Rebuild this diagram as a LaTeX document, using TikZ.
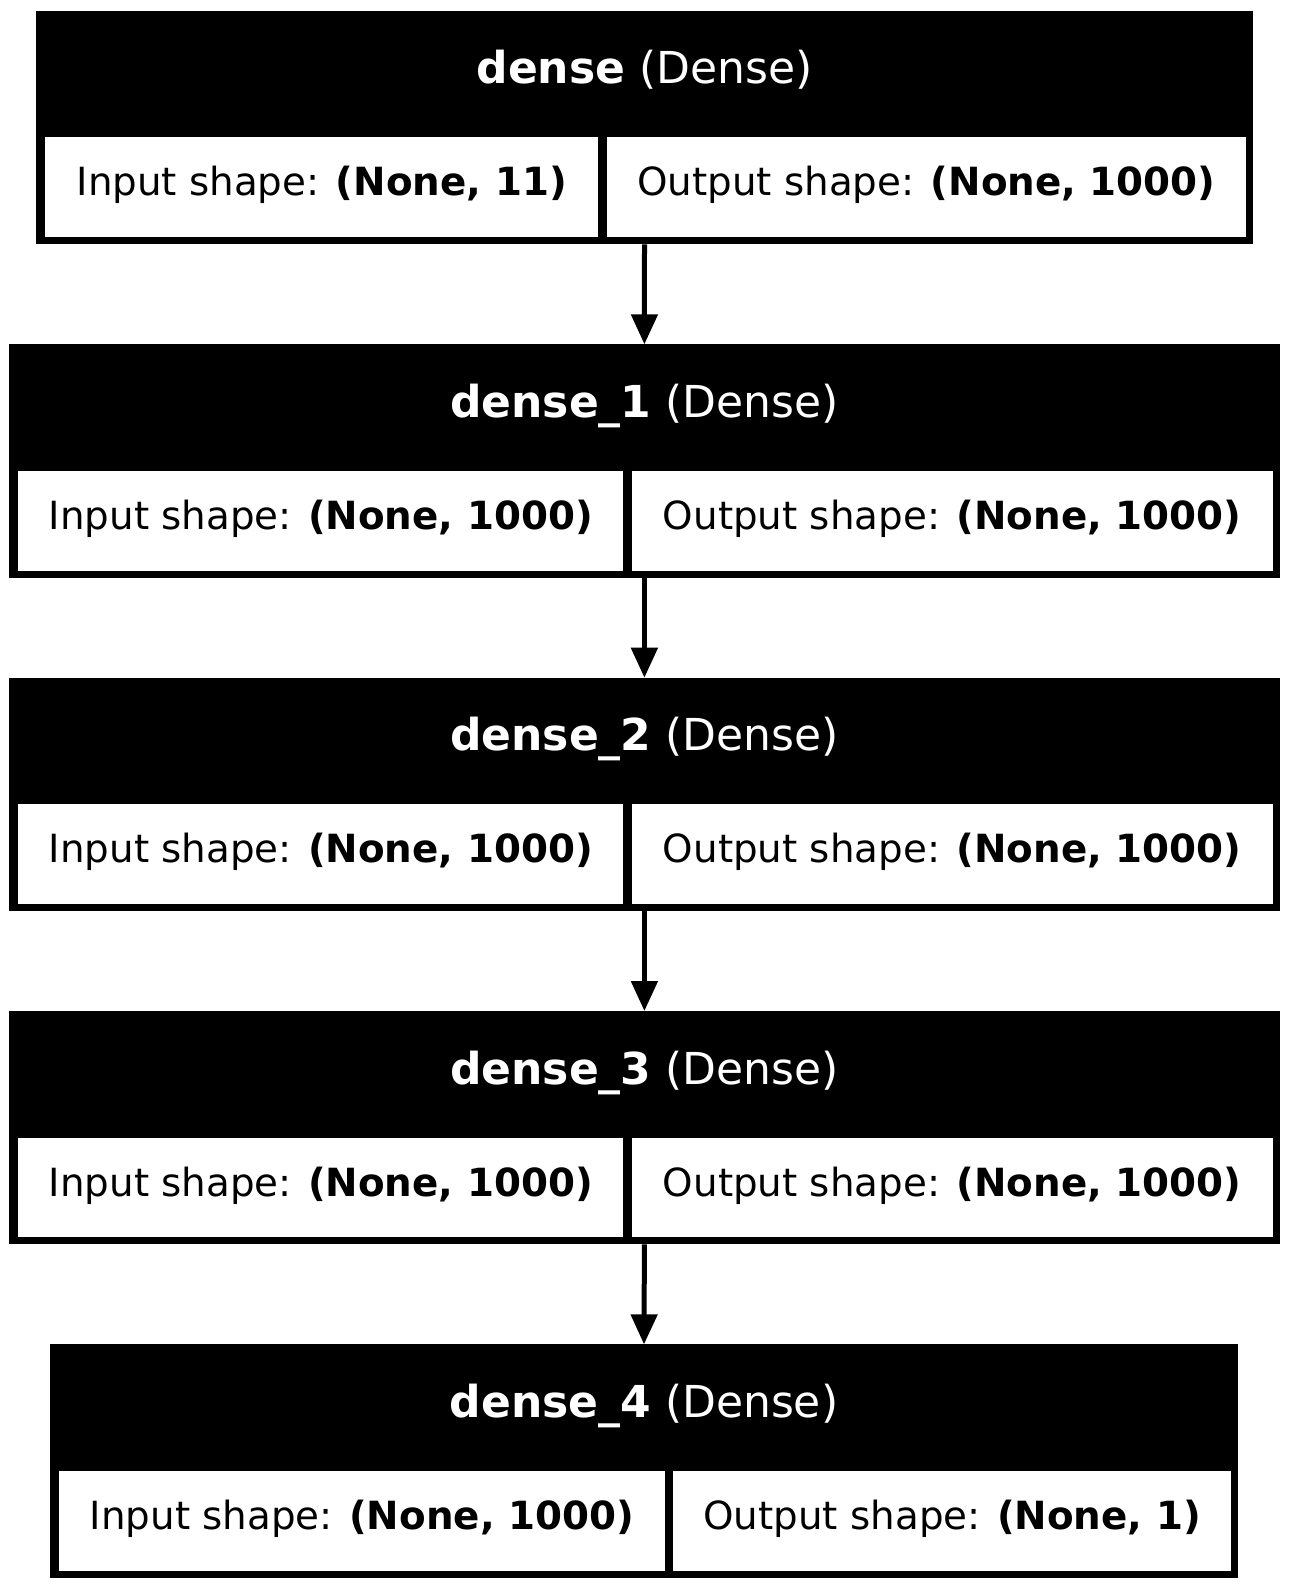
\documentclass[tikz,border=0pt]{standalone}
\usepackage{fontspec}
\setmainfont{DejaVu Sans}
\usetikzlibrary{arrows.meta}
\begin{document}
\begin{tikzpicture}[x=0.5pt,y=-0.5pt,
  layerbox/.style={rectangle, fill=black, inner sep=0pt, outer sep=0pt, anchor=north west},
  cellbox/.style={rectangle, fill=white, inner sep=0pt, outer sep=0pt, anchor=north west},
  hdrtext/.style={text=white, font=\fontsize{22}{26}\selectfont, anchor=base, inner sep=0pt},
  celltext/.style={text=black, font=\fontsize{19.4}{23}\selectfont, anchor=base, inner sep=0pt},
  conn/.style={line width=2.5pt, -{Triangle[length=15pt,width=13pt]}}
]
\fill[white] (0,0) rectangle (1289,1589);
\useasboundingbox (0,0) rectangle (1289,1589);

% #1 name, #2 top, #3 left, #4 right, #5 divider, #6 title, #7 in, #8 out
\def\mklayer#1#2#3#4#5#6#7#8{%
  \node[layerbox, minimum width={(#4-#3)*0.5pt}, minimum height={233.3*0.5pt}] (#1) at (#3,#2) {};
  \node[cellbox, minimum width={(#5-4.2-#3-9)*0.5pt}, minimum height={99.8*0.5pt}] (#1in) at ({#3+9},{#2+126.5}) {};
  \node[cellbox, minimum width={(#4-7-#5-4.2)*0.5pt}, minimum height={99.8*0.5pt}] (#1out) at ({#5+4.2},{#2+126.5}) {};
  \node[hdrtext] (#1title) at ({(#3+#4)/2},{#2+73}) {\textbf{#6} (Dense)};
  \node[celltext] (#1intext) at ({(#3+9+#5-4.2)/2},{#2+185}) {Input shape: \textbf{#7}};
  \node[celltext] (#1outtext) at ({(#5+4.2+#4-7)/2},{#2+185}) {Output shape: \textbf{#8}};
}

\mklayer{la}{11}{36}{1253}{602.5}{dense}{(None, 11)}{(None, 1000)}
\mklayer{lb}{344.3}{9.3}{1279.5}{627.5}{dense\_1}{(None, 1000)}{(None, 1000)}
\mklayer{lc}{677.7}{9.3}{1279.5}{627.5}{dense\_2}{(None, 1000)}{(None, 1000)}
\mklayer{ld}{1011}{9.3}{1279.5}{627.5}{dense\_3}{(None, 1000)}{(None, 1000)}
\mklayer{le}{1344.3}{50}{1238}{669}{dense\_4}{(None, 1000)}{(None, 1)}

\draw[conn] (la.south) -- (lb.north);
\draw[conn] (lb.south) -- (lc.north);
\draw[conn] (lc.south) -- (ld.north);
\draw[conn] (ld.south) -- (le.north);
\end{tikzpicture}
\end{document}
